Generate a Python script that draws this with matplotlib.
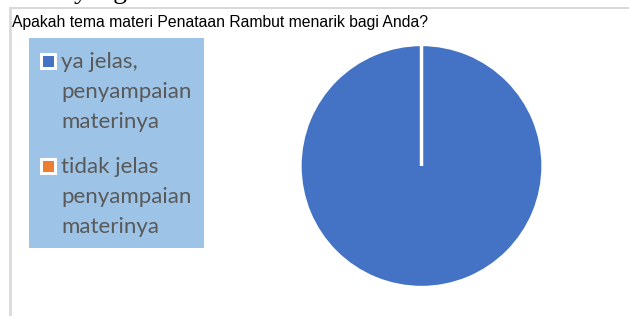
import matplotlib
matplotlib.use("Agg")
import matplotlib.pyplot as plt
from matplotlib.patches import Rectangle
from matplotlib.lines import Line2D

# data
labels = ["ya jelas,\npenyampaian\nmaterinya", "tidak jelas\npenyampaian\nmaterinya"]
values = [100, 0]
colors = ["#4472C4", "#ED7D31"]
title = "Apakah tema materi Penataan Rambut menarik bagi Anda?"

W, H = 629, 316
fig = plt.figure(figsize=(W / 100, H / 100), dpi=100)
fig.patch.set_facecolor("white")

def px(x, y):
    # pixel coords (from top-left) -> figure fraction
    return x / W, 1 - y / H

# frame lines of the chart area
fig.add_artist(Line2D([11 / W, 1], [1 - 8 / H] * 2, color="#D9D9D9", lw=1.5))
fig.add_artist(Line2D([10 / W] * 2, [0, 1 - 8 / H], color="#D9D9D9", lw=2))

# cut-off text from the page above (only descenders visible)
fig.text(74 / W, 1 + 2.5 / H, "yang", fontsize=20, family="Liberation Serif",
         color="black", va="baseline", ha="left")

# title
fig.text(*px(12, 22), title, fontsize=11.3, family="Liberation Sans",
         color="black", va="center", ha="left")

# pie
cx, cy, r = 421.5, 166, 124
ax = fig.add_axes([(cx - r) / W, 1 - (cy + r) / H, 2 * r / W, 2 * r / H])
ax.pie(values, colors=colors, startangle=90, counterclock=False,
       wedgeprops=dict(edgecolor="white", linewidth=2.5))
ax.set_xlim(-1.02, 1.02)
ax.set_ylim(-1.02, 1.02)
ax.set_aspect("equal")
ax.axis("off")

# legend box
fig.add_artist(Rectangle(px(29, 248), 175 / W, 210 / H, transform=fig.transFigure,
                         facecolor="#9DC3E6", edgecolor="none"))
y0 = 62
for lab, col in zip(labels, colors):
    fig.add_artist(Rectangle(px(40, y0 + 8), 17 / W, 17 / H, transform=fig.transFigure,
                             facecolor="white", edgecolor="none"))
    fig.add_artist(Rectangle(px(43, y0 + 5), 11 / W, 11 / H, transform=fig.transFigure,
                             facecolor=col, edgecolor="none"))
    fig.text(*px(61, y0 - 10), lab, fontsize=16, family="Lato",
             color="#595959", va="top", ha="left", linespacing=1.62)
    y0 += 105

fig.savefig("out.png", dpi=100)
